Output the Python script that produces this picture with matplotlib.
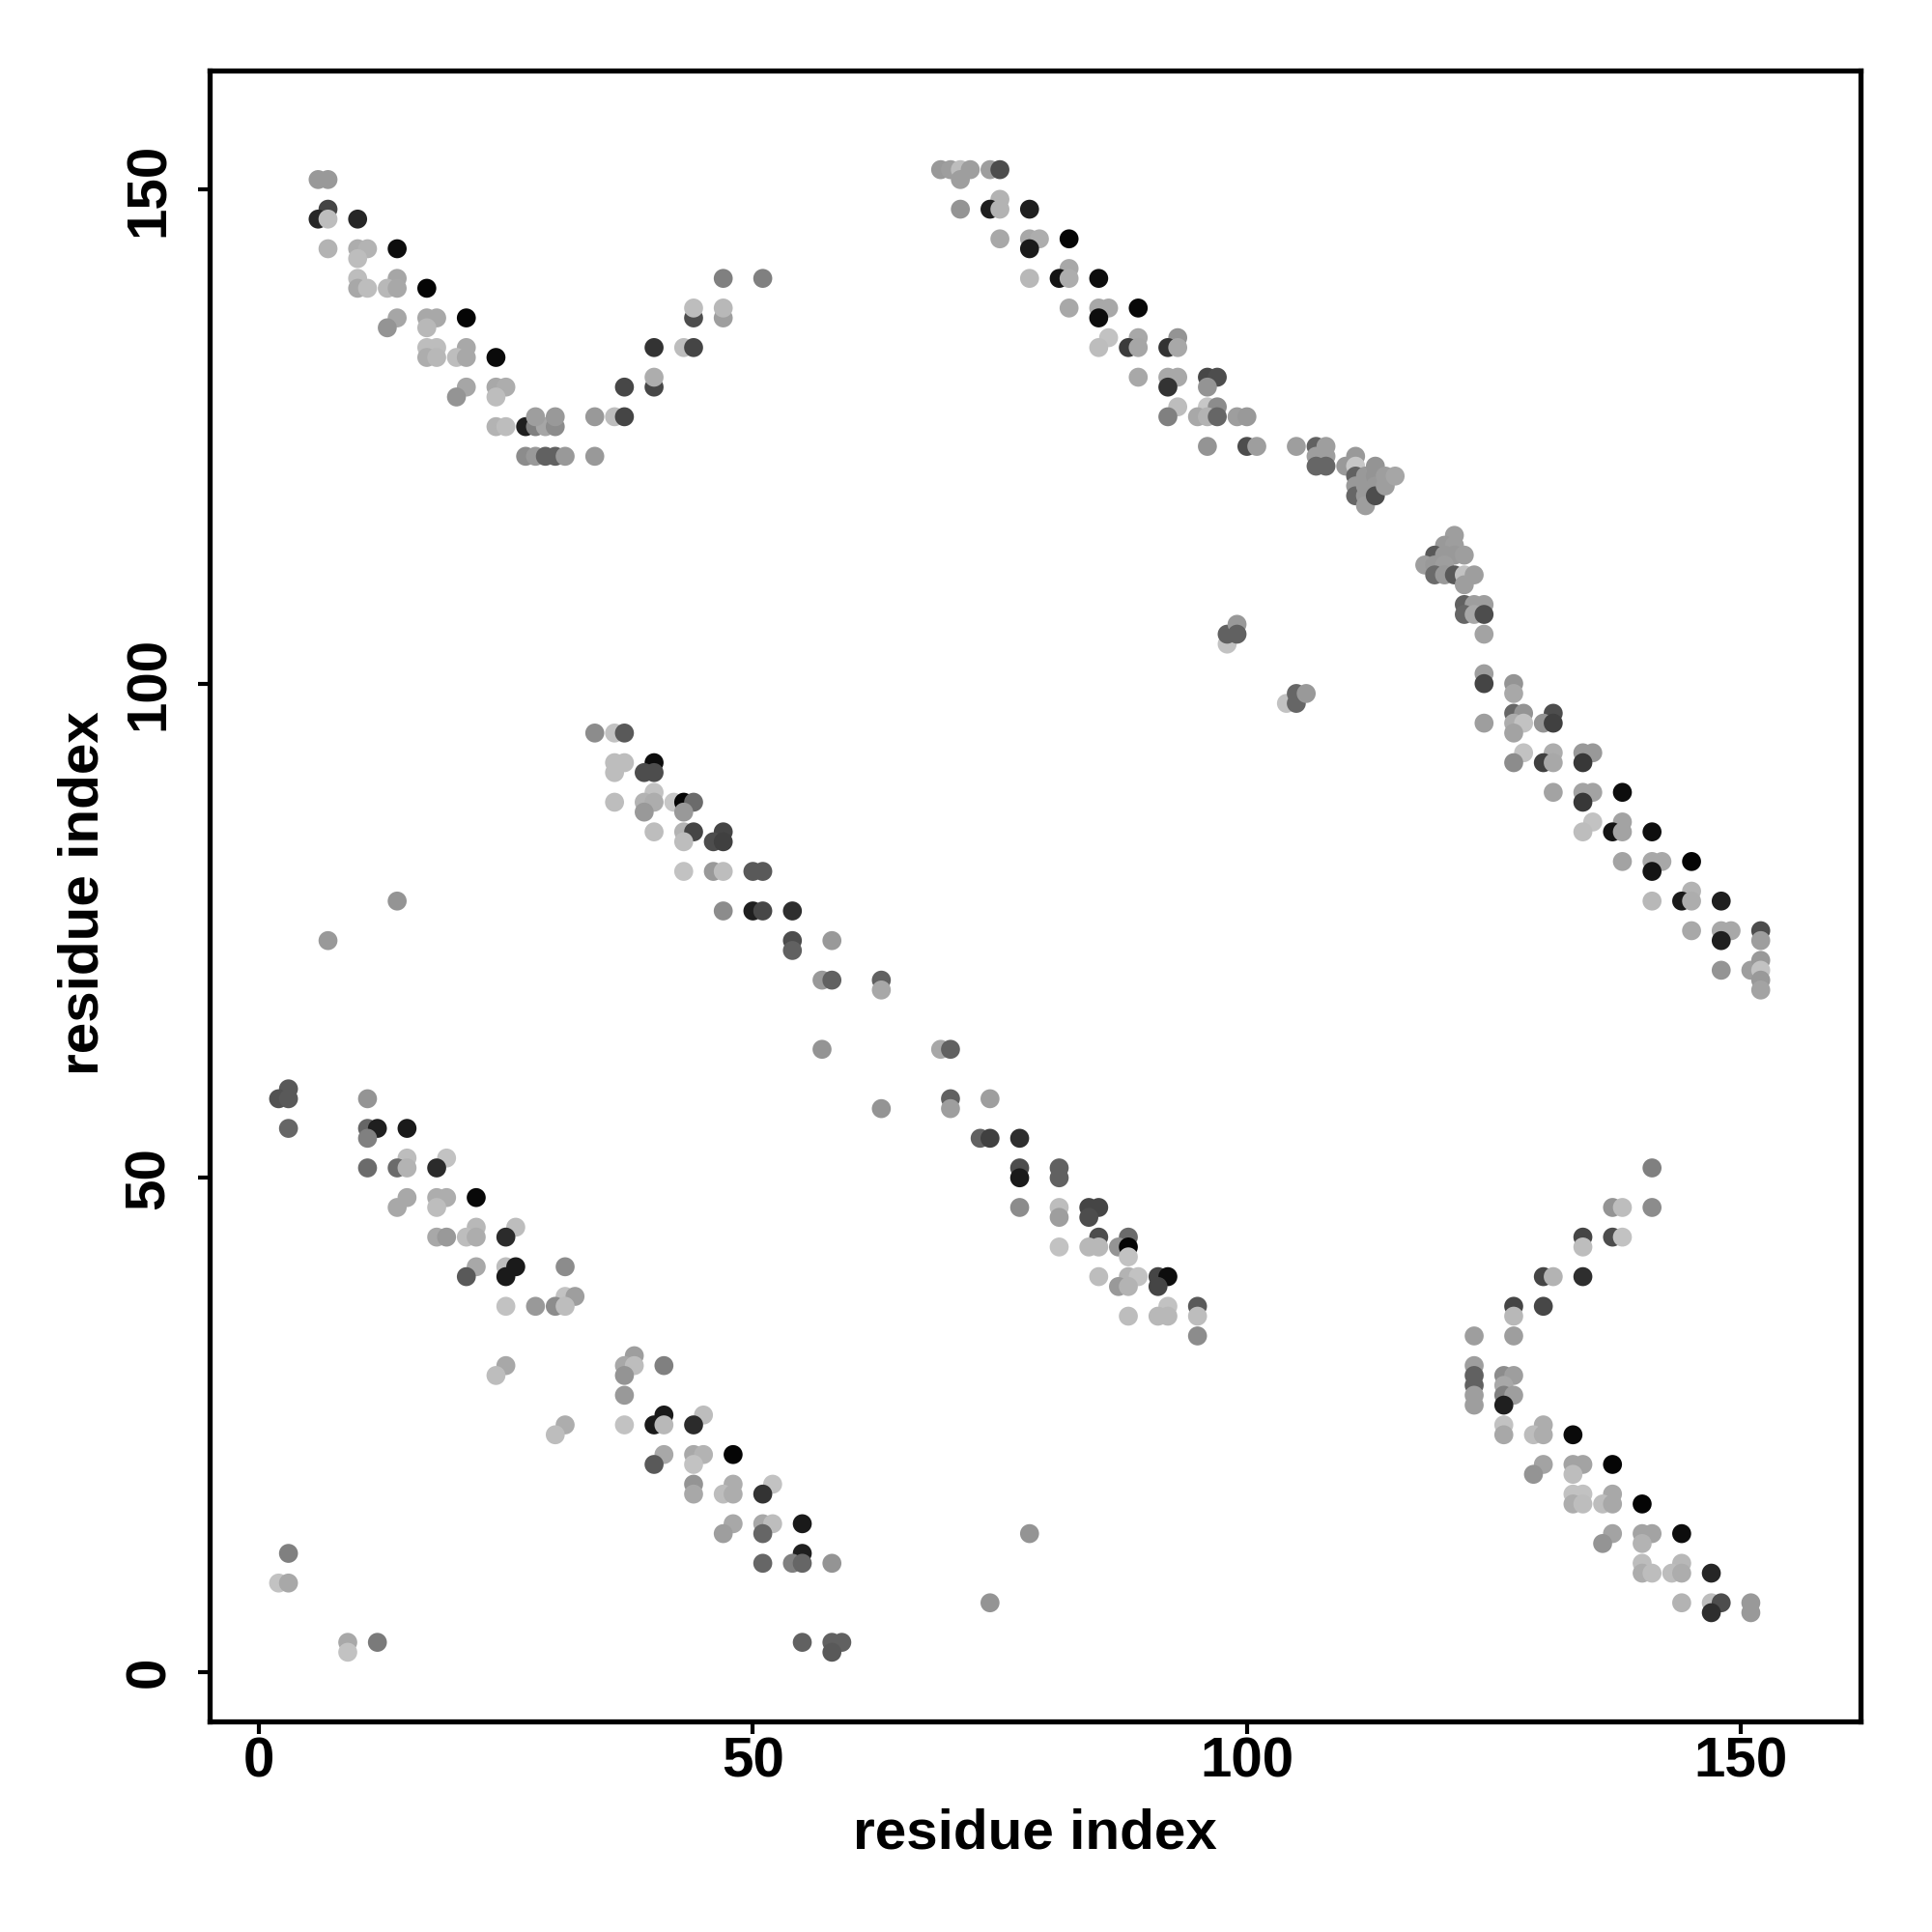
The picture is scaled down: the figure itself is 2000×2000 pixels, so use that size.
import matplotlib
matplotlib.use("Agg")
import matplotlib.pyplot as plt

plt.rcParams['font.family'] = ['Liberation Sans', 'DejaVu Sans']
plt.rcParams['font.weight'] = 'bold'

# contacts as (residue i, residue j, grey level 0=black .. 1=white)
upper_left = [
    (6, 151, 0.6), (7, 151, 0.6), (7, 148, 0.27), (6, 147, 0.15), (7, 147, 0.74), (10, 147, 0.15),
    (7, 144, 0.7), (10, 144, 0.68), (11, 144, 0.7), (14, 144, 0.05), (10, 143, 0.74),
    (10, 141, 0.74), (14, 141, 0.65), (10, 140, 0.66), (11, 140, 0.74), (13, 140, 0.72),
    (14, 140, 0.66), (17, 140, 0.02), (14, 137, 0.65), (17, 137, 0.66), (18, 137, 0.66),
    (21, 137, 0.02), (13, 136, 0.58), (17, 136, 0.72), (17, 134, 0.74), (18, 134, 0.74),
    (21, 134, 0.66), (17, 133, 0.68), (18, 133, 0.72), (20, 133, 0.74), (21, 133, 0.66),
    (24, 133, 0.04), (21, 130, 0.65), (24, 130, 0.66), (25, 130, 0.68), (20, 129, 0.58),
    (24, 129, 0.74), (24, 126, 0.7), (25, 126, 0.74), (27, 126, 0.12), (28, 126, 0.5),
    (29, 126, 0.65), (30, 126, 0.55), (28, 127, 0.62), (30, 127, 0.6), (34, 127, 0.6),
    (36, 127, 0.74), (37, 127, 0.27), (27, 123, 0.55), (28, 123, 0.6), (29, 123, 0.38),
    (30, 123, 0.38), (31, 123, 0.6), (34, 123, 0.6), (37, 130, 0.28), (40, 130, 0.28),
    (40, 131, 0.68), (40, 134, 0.2), (43, 134, 0.74), (44, 134, 0.27), (44, 137, 0.3),
    (47, 137, 0.62), (44, 138, 0.74), (47, 138, 0.72), (47, 141, 0.5), (51, 141, 0.5),
]

upper_mid = [
    (69, 152, 0.6), (70, 152, 0.62), (71, 152, 0.74), (72, 152, 0.62), (74, 152, 0.62),
    (75, 152, 0.3), (71, 151, 0.62), (75, 149, 0.7), (71, 148, 0.58), (74, 148, 0.12),
    (75, 148, 0.7), (78, 148, 0.12), (75, 145, 0.66), (78, 145, 0.66), (79, 145, 0.68),
    (82, 145, 0.02), (78, 144, 0.1), (82, 142, 0.66), (78, 141, 0.72), (81, 141, 0.08),
    (82, 141, 0.68), (85, 141, 0.05), (82, 138, 0.66), (85, 138, 0.66), (86, 138, 0.66),
    (89, 138, 0.03), (85, 137, 0.05), (86, 135, 0.76), (89, 135, 0.66), (93, 135, 0.58),
    (85, 134, 0.74), (88, 134, 0.23), (89, 134, 0.65), (92, 134, 0.2), (93, 134, 0.66),
    (89, 131, 0.66), (92, 131, 0.66), (93, 131, 0.66), (96, 131, 0.28), (97, 131, 0.3),
    (92, 130, 0.2), (96, 130, 0.58), (93, 128, 0.74), (96, 128, 0.78), (97, 128, 0.55),
    (92, 127, 0.5), (95, 127, 0.66), (96, 127, 0.7), (97, 127, 0.4), (99, 127, 0.62),
    (100, 127, 0.6), (96, 124, 0.58), (100, 124, 0.3), (101, 124, 0.62), (105, 124, 0.62),
]

cluster_right = [
    (107, 124, 0.38), (108, 124, 0.62), (107, 123, 0.62), (108, 123, 0.62), (107, 122, 0.4),
    (108, 122, 0.4), (110, 122, 0.6), (111, 123, 0.6), (111, 122, 0.78), (111, 121, 0.38),
    (111, 120, 0.6), (111, 119, 0.4), (112, 121, 0.6), (112, 120, 0.6), (112, 119, 0.6),
    (112, 118, 0.62), (113, 122, 0.58), (113, 121, 0.58), (113, 120, 0.6), (113, 119, 0.3),
    (114, 121, 0.62), (114, 120, 0.62), (115, 121, 0.65),
]

diag_right = [
    (121, 115, 0.62), (120, 114, 0.6), (121, 114, 0.62), (119, 113, 0.35), (120, 113, 0.6),
    (121, 113, 0.6), (122, 113, 0.62), (118, 112, 0.62), (119, 112, 0.6), (120, 112, 0.62),
    (119, 111, 0.42), (120, 111, 0.6), (121, 111, 0.35), (122, 111, 0.76), (123, 111, 0.62),
    (122, 110, 0.62), (122, 108, 0.38), (123, 108, 0.62), (124, 108, 0.62), (122, 107, 0.4),
    (123, 107, 0.66), (124, 107, 0.3), (124, 105, 0.64), (124, 101, 0.62), (124, 100, 0.27),
    (127, 100, 0.58), (127, 99, 0.66), (127, 97, 0.4), (128, 97, 0.58), (131, 97, 0.3),
    (124, 96, 0.62), (127, 96, 0.68), (128, 96, 0.76), (130, 96, 0.58), (131, 96, 0.25),
    (127, 95, 0.64), (128, 93, 0.76), (131, 93, 0.68), (134, 93, 0.6), (135, 93, 0.6),
    (127, 92, 0.55), (130, 92, 0.25), (131, 92, 0.66), (134, 92, 0.22), (131, 89, 0.64),
    (134, 89, 0.64), (135, 89, 0.64), (138, 89, 0.05), (134, 88, 0.22), (135, 86, 0.76),
    (138, 86, 0.64), (134, 85, 0.74), (137, 85, 0.08), (138, 85, 0.64), (141, 85, 0.06),
    (138, 82, 0.64), (141, 82, 0.66), (142, 82, 0.66), (145, 82, 0.02), (141, 81, 0.08),
    (145, 79, 0.7), (141, 78, 0.72), (144, 78, 0.1), (145, 78, 0.68), (148, 78, 0.12),
    (145, 75, 0.66), (148, 75, 0.66), (149, 75, 0.66), (152, 75, 0.3), (148, 74, 0.12),
    (152, 74, 0.62), (148, 71, 0.58), (151, 71, 0.62), (152, 72, 0.6), (152, 71, 0.76),
    (152, 70, 0.6), (152, 69, 0.64),
]

isolated = [
    (98, 104, 0.76), (98, 105, 0.38), (99, 106, 0.6), (99, 105, 0.38), (104, 98, 0.76),
    (105, 99, 0.4), (105, 98, 0.4), (106, 99, 0.6), (14, 78, 0.58), (7, 74, 0.6),
    (78, 14, 0.58), (74, 7, 0.58),
]

mid_left = [
    (34, 95, 0.55), (36, 95, 0.76), (37, 95, 0.35), (36, 92, 0.74), (37, 92, 0.74),
    (40, 92, 0.05), (36, 91, 0.74), (39, 91, 0.3), (40, 91, 0.3), (40, 89, 0.76),
    (36, 88, 0.74), (39, 88, 0.7), (40, 88, 0.68), (42, 88, 0.78), (43, 88, 0.02),
    (44, 88, 0.42), (39, 87, 0.6), (43, 87, 0.6), (40, 85, 0.74), (43, 85, 0.7),
    (44, 85, 0.27), (47, 85, 0.27), (43, 84, 0.74), (46, 84, 0.3), (47, 84, 0.25),
    (43, 81, 0.76), (46, 81, 0.6), (47, 81, 0.74), (50, 81, 0.35), (51, 81, 0.35),
    (47, 77, 0.55), (50, 77, 0.12), (51, 77, 0.28), (54, 77, 0.18), (54, 74, 0.3),
    (58, 74, 0.6), (54, 73, 0.38), (57, 70, 0.6), (58, 70, 0.38), (63, 70, 0.38),
    (63, 69, 0.66), (57, 63, 0.58),
]

mid_lower = [
    (69, 63, 0.66), (70, 63, 0.38), (70, 58, 0.38), (74, 58, 0.62), (63, 57, 0.58),
    (70, 57, 0.62), (73, 54, 0.38), (74, 54, 0.25), (77, 54, 0.18), (77, 51, 0.3),
    (81, 51, 0.38), (77, 50, 0.1), (81, 50, 0.38), (77, 47, 0.55), (81, 47, 0.74),
    (84, 47, 0.27), (85, 47, 0.27), (81, 46, 0.62), (84, 46, 0.3), (85, 44, 0.3),
    (88, 44, 0.42), (81, 43, 0.76), (84, 43, 0.72), (85, 43, 0.72), (87, 43, 0.58),
    (88, 43, 0.02), (88, 42, 0.76), (85, 40, 0.74), (88, 40, 0.7), (89, 40, 0.76),
    (91, 40, 0.27), (92, 40, 0.05), (87, 39, 0.6), (88, 39, 0.7), (91, 39, 0.27),
    (92, 37, 0.76), (95, 37, 0.35), (88, 36, 0.74), (91, 36, 0.72), (92, 36, 0.72),
    (95, 36, 0.74), (95, 34, 0.55),
]

lower_left = [
    (3, 59, 0.35), (2, 58, 0.32), (3, 58, 0.35), (11, 58, 0.58), (3, 55, 0.4),
    (11, 55, 0.4), (12, 55, 0.12), (15, 55, 0.1), (11, 54, 0.5), (15, 52, 0.74),
    (19, 52, 0.76), (11, 51, 0.42), (14, 51, 0.42), (15, 51, 0.7), (18, 51, 0.17),
    (15, 48, 0.66), (18, 48, 0.68), (19, 48, 0.68), (22, 48, 0.03), (14, 47, 0.66),
    (18, 47, 0.74), (22, 45, 0.72), (26, 45, 0.74), (18, 44, 0.66), (19, 44, 0.6),
    (21, 44, 0.74), (22, 44, 0.68), (25, 44, 0.17), (22, 41, 0.66), (25, 41, 0.74),
    (26, 41, 0.1), (31, 41, 0.55), (21, 40, 0.35), (25, 40, 0.1), (31, 38, 0.76),
    (32, 38, 0.62), (25, 37, 0.76), (28, 37, 0.6), (30, 37, 0.55), (31, 37, 0.74),
]

bottom_left = [
    (38, 32, 0.62), (25, 31, 0.66), (37, 31, 0.66), (38, 31, 0.74), (41, 31, 0.5),
    (24, 30, 0.74), (37, 30, 0.58), (37, 28, 0.6), (41, 26, 0.1), (45, 26, 0.74),
    (31, 25, 0.68), (30, 24, 0.74), (37, 25, 0.76), (40, 25, 0.1), (41, 25, 0.72),
    (44, 25, 0.17), (41, 22, 0.66), (44, 22, 0.66), (45, 22, 0.7), (48, 22, 0.02),
    (40, 21, 0.35), (44, 21, 0.76), (44, 19, 0.58), (48, 19, 0.68), (52, 19, 0.76),
    (44, 18, 0.66), (47, 18, 0.74), (48, 18, 0.68), (51, 18, 0.2), (48, 15, 0.66),
    (51, 15, 0.66), (52, 15, 0.74), (47, 14, 0.62), (51, 14, 0.4), (51, 11, 0.4),
    (55, 15, 0.1), (55, 12, 0.12), (54, 11, 0.5), (55, 11, 0.4), (58, 11, 0.58),
    (55, 3, 0.38), (58, 3, 0.38), (59, 3, 0.38), (58, 2, 0.35),
    (3, 12, 0.5), (2, 9, 0.76), (3, 9, 0.66), (9, 3, 0.66), (12, 3, 0.48), (9, 2, 0.76),
]

bottom_right = [
    (141, 51, 0.5), (137, 47, 0.58), (138, 47, 0.74), (141, 47, 0.55), (134, 44, 0.27),
    (134, 43, 0.74), (137, 44, 0.3), (138, 44, 0.76), (130, 40, 0.27), (131, 40, 0.7),
    (134, 40, 0.18), (127, 37, 0.27), (130, 37, 0.28), (127, 36, 0.72), (123, 34, 0.62),
    (127, 34, 0.62), (123, 31, 0.62), (123, 30, 0.38), (126, 30, 0.55), (127, 30, 0.62),
    (123, 29, 0.38), (126, 29, 0.66), (123, 28, 0.62), (126, 28, 0.5), (127, 28, 0.62),
    (123, 27, 0.62), (126, 27, 0.12), (126, 25, 0.76), (130, 25, 0.68), (126, 24, 0.66),
    (129, 24, 0.74), (130, 24, 0.68), (133, 24, 0.04), (130, 21, 0.64), (133, 21, 0.64),
    (134, 21, 0.64), (137, 21, 0.02), (129, 20, 0.58), (133, 20, 0.74), (133, 18, 0.76),
    (134, 18, 0.76), (137, 18, 0.66), (133, 17, 0.68), (134, 17, 0.74), (136, 17, 0.74),
    (137, 17, 0.66), (140, 17, 0.02), (137, 14, 0.64), (140, 14, 0.64), (141, 14, 0.64),
    (144, 14, 0.05), (136, 13, 0.58), (140, 13, 0.7), (140, 11, 0.74), (144, 11, 0.72),
    (140, 10, 0.68), (141, 10, 0.74), (143, 10, 0.74), (144, 10, 0.68), (147, 10, 0.15),
    (144, 7, 0.7), (147, 7, 0.74), (148, 7, 0.3), (151, 7, 0.6), (147, 6, 0.18),
    (151, 6, 0.6),
]

ticks = [0, 50, 100, 150]

contacts = (upper_left + upper_mid + cluster_right + diag_right + isolated
            + mid_left + mid_lower + lower_left + bottom_left + bottom_right)
xs = [c[0] for c in contacts]
ys = [c[1] for c in contacts]
cols = [str(c[2]) for c in contacts]

fig = plt.figure(figsize=(10, 10), dpi=200)
ax = fig.add_axes([0.1084, 0.109, 0.8546, 0.8546])
ax.scatter(xs, ys, c=cols, s=50, linewidths=0)

ax.set_xlim(-5.0, 162.1)
ax.set_ylim(-5.0, 162.05)
ax.set_xticks(ticks)
ax.set_yticks(ticks)
ax.set_xticklabels([str(t) for t in ticks])
ax.set_yticklabels([str(t) for t in ticks], rotation=90, va='center')
ax.tick_params(axis='both', direction='out', length=4.5, width=1.5, labelsize=21)
ax.tick_params(axis='x', pad=1)
ax.tick_params(axis='y', pad=8)
for s in ax.spines.values():
    s.set_linewidth(1.9)

ax.set_xlabel('residue index', fontsize=21, fontweight='bold', va='baseline')
ax.xaxis.set_label_coords(0.5, -0.0767)
ax.set_ylabel('residue index', fontsize=21, fontweight='bold', va='baseline')
ax.yaxis.set_label_coords(-0.0672, 0.5015)

fig.savefig('out.png', dpi=200, facecolor='white')
